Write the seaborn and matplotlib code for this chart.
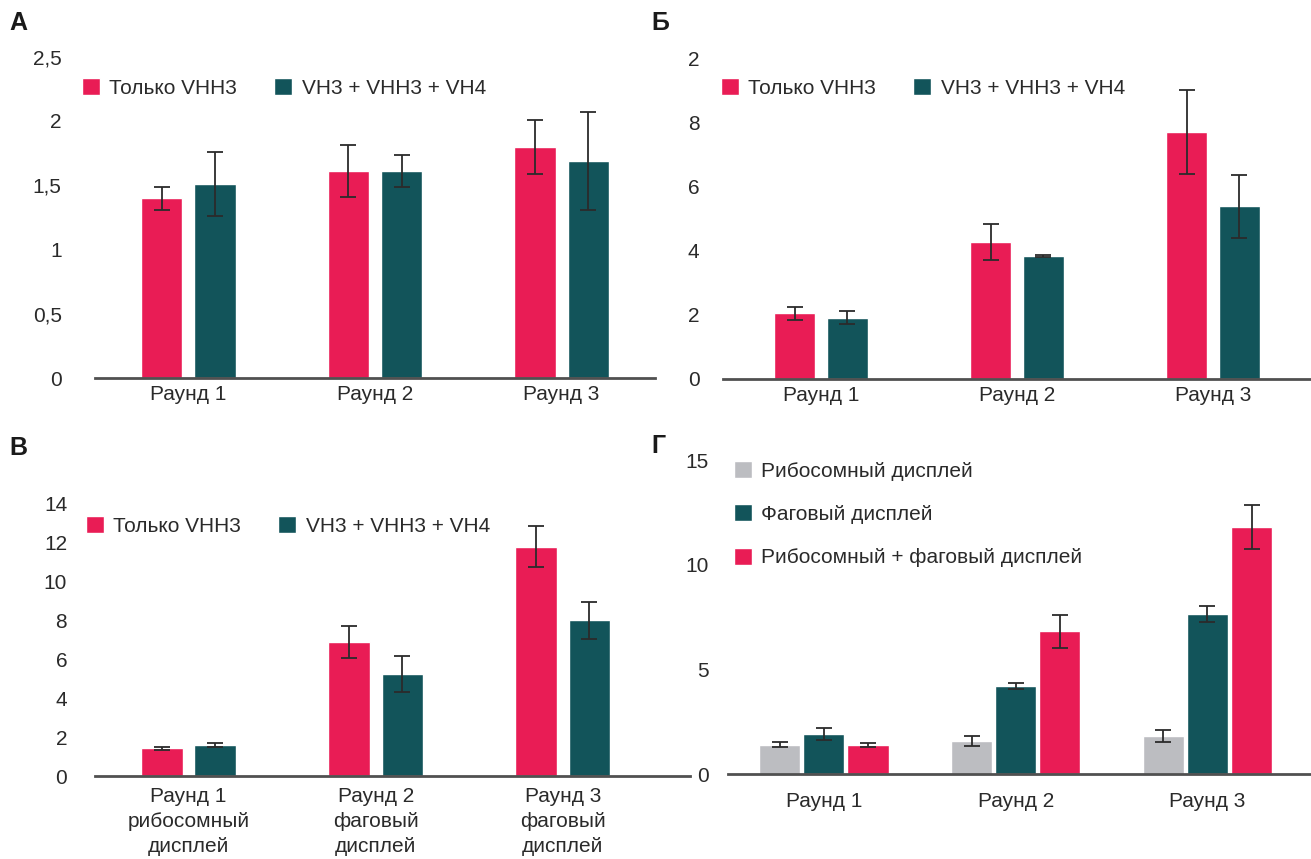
import matplotlib
matplotlib.use("Agg")
import matplotlib.pyplot as plt
import seaborn as sns
import pandas as pd
import numpy as np

# ---- data ----
rounds = ["Раунд 1", "Раунд 2", "Раунд 3"]
rounds_v = ["Раунд 1\nрибосомный\nдисплей",
            "Раунд 2\nфаговый\nдисплей",
            "Раунд 3\nфаговый\nдисплей"]
series_ab = ["Только VHH3", "VH3 + VHH3 + VH4"]
series_g = ["Рибосомный дисплей", "Фаговый дисплей", "Рибосомный + фаговый дисплей"]

a_only = [1.40, 1.61, 1.80]
a_only_err = [0.09, 0.20, 0.21]
a_mix = [1.51, 1.61, 1.69]
a_mix_err = [0.25, 0.125, 0.38]
a_ticks = ["0", "0,5", "1", "1,5", "2", "2,5"]

b_only = [2.05, 4.28, 7.72]
b_only_err = [0.20, 0.55, 1.32]
b_mix = [1.92, 3.84, 5.40]
b_mix_err = [0.19, 0.03, 0.99]
b_ticks = ["0", "2", "4", "6", "8", "2"]

v_only = [1.43, 6.90, 11.80]
v_only_err = [0.08, 0.81, 1.05]
v_mix = [1.60, 5.25, 8.00]
v_mix_err = [0.09, 0.92, 0.96]
v_ticks = ["0", "2", "4", "6", "8", "10", "12", "14"]

g_ribo = [1.39, 1.58, 1.82]
g_ribo_err = [0.12, 0.22, 0.28]
g_phage = [1.91, 4.21, 7.66]
g_phage_err = [0.29, 0.15, 0.37]
g_both = [1.39, 6.84, 11.82]
g_both_err = [0.11, 0.79, 1.07]
g_ticks = ["0", "5", "10", "15"]

PINK = "#E91C55"
TEAL = "#12545A"
GREY = "#BCBDC1"
TEXT = "#2a2a2a"

sns.set_theme(style="white")
plt.rcParams["font.family"] = ["Liberation Sans", "DejaVu Sans"]
plt.rcParams["text.color"] = TEXT
plt.rcParams["xtick.color"] = TEXT
plt.rcParams["ytick.color"] = TEXT

W, H = 1311, 859
DPI = 100
fig = plt.figure(figsize=(W / DPI, H / DPI), dpi=DPI)
FS = 15.0


def rect(x0, x1, ytop, ybot):
    return [x0 / W, 1 - ybot / H, (x1 - x0) / W, (ybot - ytop) / H]


def panel(r, cats, names, values, errs, colors, ymax, tick_vals, tick_labels,
          xright, width, gap, ypad, xpad, leg_anchor, ncol, colspace, lspace):
    ax = fig.add_axes(r)
    rows = []
    for name, vals in zip(names, values):
        for c, v in zip(cats, vals):
            rows.append({"cat": c, "value": v, "series": name})
    df = pd.DataFrame(rows)
    sns.barplot(data=df, x="cat", y="value", hue="series", order=cats,
                hue_order=names, palette=colors, width=width, gap=gap,
                errorbar=None, saturation=1, ax=ax)
    for cont, e in zip(ax.containers, errs):
        xs = [b.get_x() + b.get_width() / 2 for b in cont]
        ys = [b.get_height() for b in cont]
        ax.errorbar(xs, ys, yerr=e, fmt="none", ecolor="#2b2b2b",
                    elinewidth=1.3, capsize=6, capthick=1.3, zorder=5)
    ax.set_xlim(-0.5, xright)
    ax.set_ylim(0, ymax)
    ax.set_yticks(tick_vals)
    ax.set_yticklabels(tick_labels)
    ax.set_xlabel("")
    ax.set_ylabel("")
    for s in ["top", "right", "left"]:
        ax.spines[s].set_visible(False)
    ax.spines["bottom"].set_color("#505050")
    ax.spines["bottom"].set_linewidth(2)
    ax.tick_params(axis="both", length=0, labelsize=FS)
    ax.tick_params(axis="y", pad=ypad)
    ax.tick_params(axis="x", pad=xpad)
    for t in ax.get_xticklabels():
        t.set_linespacing(1.38)
    ax.set_facecolor("none")
    sns.move_legend(ax, loc="upper left", bbox_to_anchor=leg_anchor,
                    bbox_transform=fig.transFigure, ncol=ncol, frameon=False,
                    title=None, fontsize=FS, handlelength=0.85, handleheight=0.85,
                    handletextpad=0.45, columnspacing=colspace,
                    labelspacing=lspace, borderpad=0, borderaxespad=0)
    return ax


# А
panel(rect(95, 655, 378 - 2.5 * 128.5, 378), rounds, series_ab,
      [a_only, a_mix], [a_only_err, a_mix_err], [PINK, TEAL], 2.5,
      [0, 0.5, 1, 1.5, 2, 2.5], a_ticks, 2.5, 0.57, 0.22, 24, 5,
      (82 / W, 1 - 78 / H), 2, 1.8, 0.5)

# Б
panel(rect(723, 1311, 379 - 320, 379), rounds, series_ab,
      [b_only, b_mix], [b_only_err, b_mix_err], [PINK, TEAL], 10,
      [0, 2, 4, 6, 8, 10], b_ticks, 2.5, 0.54, 0.22, 17, 5,
      (721 / W, 1 - 78 / H), 2, 1.8, 0.5)

# В
panel(rect(95, 690, 776 - 14 * 19.44, 776), rounds_v, series_ab,
      [v_only, v_mix], [v_only_err, v_mix_err], [PINK, TEAL], 14,
      [0, 2, 4, 6, 8, 10, 12, 14], v_ticks, 2.68, 0.57, 0.22, 20, 8,
      (86 / W, 1 - 516 / H), 2, 1.8, 0.5)

# Г
panel(rect(728, 1311, 774 - 15 * 20.9, 774), rounds, series_g,
      [g_ribo, g_phage, g_both], [g_ribo_err, g_phage_err, g_both_err],
      [GREY, TEAL, PINK], 15, [0, 5, 10, 15], g_ticks, 2.54, 0.69, 0.07,
      14, 13, (734 / W, 1 - 461 / H), 1, 1.8, 1.15)

for letter, x, y in [("А", 9, 23), ("Б", 651, 23), ("В", 9, 448), ("Г", 651, 446)]:
    fig.text(x / W, 1 - y / H, letter, fontsize=18, fontweight="bold",
             ha="left", va="center", color="#1a1a1a")

fig.savefig("out.png", dpi=DPI)
